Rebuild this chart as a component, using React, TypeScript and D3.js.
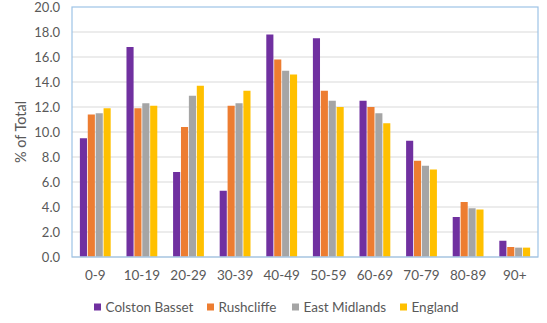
import React from "react";
import * as d3 from "d3";

const categories = ["0-9", "10-19", "20-29", "30-39", "40-49", "50-59", "60-69", "70-79", "80-89", "90+"];
const seriesNames = ["Colston Basset", "Rushcliffe", "East Midlands", "England"];
const colstonBasset = [9.5, 16.8, 6.8, 5.3, 17.8, 17.5, 12.5, 9.3, 3.2, 1.3];
const rushcliffe = [11.4, 11.9, 10.4, 12.1, 15.8, 13.3, 12.0, 7.7, 4.4, 0.8];
const eastMidlands = [11.5, 12.3, 12.9, 12.3, 14.9, 12.5, 11.5, 7.3, 3.9, 0.75];
const england = [11.9, 12.1, 13.7, 13.3, 14.6, 12.0, 10.7, 7.0, 3.8, 0.75];
const yTicks = [0, 2, 4, 6, 8, 10, 12, 14, 16, 18, 20];
const colors = ["#7030A0", "#ED7D31", "#A5A5A5", "#FFC000"];

const W = 547, H = 323;
const M = { left: 72, right: 538, top: 7, bottom: 257 };
const FONT = "Lato, 'Open Sans', sans-serif";

export default function App() {
  const seriesData = [colstonBasset, rushcliffe, eastMidlands, england];
  const x0 = d3.scaleBand<string>().domain(categories).range([M.left, M.right]).paddingInner(0.305).paddingOuter(0.152);
  const x1 = d3.scaleBand<string>().domain(seriesNames).range([0, x0.bandwidth()]).padding(0.1);
  const y = d3.scaleLinear().domain([0, 20]).range([M.bottom, M.top]);
  const legendX = [94, 207, 292, 400];

  return (
    <svg width={W} height={H} style={{ position: "absolute", left: 0, top: 0, background: "#fff" }} fontFamily={FONT}>
      {yTicks.map((t) => (
        <g key={t}>
          {t > 0 && t < 20 && (
            <line x1={M.left} x2={M.right} y1={y(t)} y2={y(t)} stroke="#d9d9d9" strokeWidth={1} />
          )}
          <text x={60} y={y(t)} dy="0.35em" textAnchor="end" fontSize={13} fill="#595959">
            {t.toFixed(1)}
          </text>
        </g>
      ))}
      {categories.map((c, i) => (
        <g key={c}>
          {seriesData.map((s, j) => (
            <rect
              key={j}
              x={(x0(c) as number) + (x1(seriesNames[j]) as number)}
              y={y(s[i])}
              width={x1.bandwidth()}
              height={M.bottom - y(s[i])}
              fill={colors[j]}
            />
          ))}
          <text x={(x0(c) as number) + x0.bandwidth() / 2} y={275} dy="0.35em" textAnchor="middle" fontSize={13.5} fill="#595959">
            {c}
          </text>
        </g>
      ))}
      <line x1={M.left} x2={M.right} y1={M.bottom} y2={M.bottom} stroke="#d9d9d9" strokeWidth={1} />
      <rect x={M.left} y={M.top} width={M.right - M.left} height={M.bottom - M.top} fill="none" stroke="#9DC3E6" strokeWidth={1.2} />
      <text transform={`translate(21,${(M.top + M.bottom) / 2}) rotate(-90)`} dy="0.35em" textAnchor="middle" fontSize={14.5} fill="#595959">
        % of Total
      </text>
      {seriesNames.map((n, j) => (
        <g key={n} transform={`translate(${legendX[j]},307)`}>
          <rect x={0} y={-3.5} width={7} height={7} fill={colors[j]} />
          <text x={11.5} y={0} dy="0.35em" fontSize={13.5} fill="#595959">{n}</text>
        </g>
      ))}
    </svg>
  );
}
